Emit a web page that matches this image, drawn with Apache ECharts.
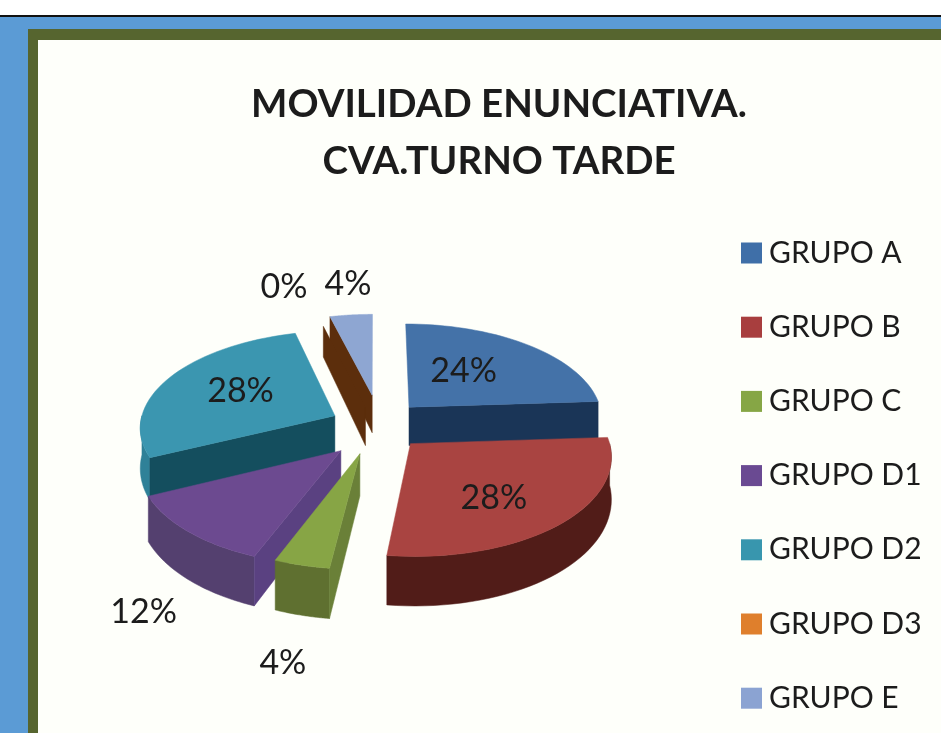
<!DOCTYPE html>
<html>
<head>
<meta charset="utf-8">
<style>
  html, body { margin: 0; padding: 0; background: #5b9bd5; }
  #main { width: 941px; height: 733px; }
</style>
</head>
<body>
<div id="main"></div>
<script src="https://cdn.jsdelivr.net/npm/echarts@6/dist/echarts.min.js"></script>
<script>
const chartTitle = 'MOVILIDAD ENUNCIATIVA.\nCVA.TURNO TARDE';
const groupNames = ['GRUPO A', 'GRUPO B', 'GRUPO C', 'GRUPO D1', 'GRUPO D2', 'GRUPO D3', 'GRUPO E'];
const groupValues = [24, 28, 4, 12, 28, 0, 4];

// styles per slice
const topColors = ['#4472a8', '#a94441', '#87a545', '#6c4a90', '#3b96b0', '#e07f2e', '#8ea6d2'];
const wallColors = ['#1a3557', '#511c18', '#6a8038', '#5a4181', '#144e5e', '#5c2e0c', '#5c2e0c'];
const rimColors = ['#1a3557', '#511c18', '#5f7030', '#54406f', '#2f8198', '#5c2e0c', '#5c2e0c'];
const legendColors = ['#3f6fa8', '#a83e3e', '#86a645', '#6a4a92', '#3896ae', '#df7f2c', '#8ba3d2'];
// how far each slice is pulled out of the pie (sideways, towards viewer), in radii
const explode = [[0.178, -0.19], [0.178, 0.19], [-0.075, 0.29], [-0.17, 0.26], [-0.208, -0.098], [-0.05, -0.19], [-0.015, -0.32]];
// label position: radius along the slice middle, then small pixel nudge
const labelRadius = [0.56, 0.7, 1.71, 1.84, 0.64, 1.56, 1.44];
const labelNudge = [[-14, 0], [-20, 0], [32, 0], [107, 0], [13, 0], [-19, 0], [5, 0]];
// back slices first
const paintOrder = [6, 5, 0, 4, 3, 2, 1];

const total = groupValues.reduce((a, b) => a + b, 0);
const pie = { cx: 375, cy: 425, r: 195, flat: 96, persp: 0.11, depth: 40, depthSlope: 0.2 };
const labelFont = 'Lato, "Open Sans", sans-serif';

function project(u, v, h) {
  const s = 1 / (1 - pie.persp * v);
  return [pie.cx + u * pie.r * s, pie.cy + v * pie.flat * s + h * pie.depth * (1 + pie.depthSlope * v)];
}

function sliceAngles(i) {
  const before = groupValues.slice(0, i).reduce((a, b) => a + b, 0);
  return [before / total * Math.PI * 2, (before + groupValues[i]) / total * Math.PI * 2];
}

function renderSlice(i, params, api) {
  const value = api.value(0);
  const [a0, a1] = sliceAngles(i);
  const mid = (a0 + a1) / 2;
  const ox = explode[i][0];
  const oy = explode[i][1];
  const rim = (t, h) => project(ox + Math.sin(t), oy - Math.cos(t), h);
  const apex = h => project(ox, oy, h);
  const children = [];
  const poly = (points, fill) => children.push({
    type: 'polygon',
    shape: { points: points },
    style: { fill: fill, stroke: fill, lineWidth: 0.5 }
  });

  // outer wall, front half only
  const from = Math.max(a0, Math.PI / 2);
  const to = Math.min(a1, Math.PI * 1.5);
  if (to > from) {
    const upper = [], lower = [];
    for (let k = 0; k <= 40; k++) {
      const t = from + (to - from) * k / 40;
      upper.push(rim(t, 0));
      lower.unshift(rim(t, 1));
    }
    poly(upper.concat(lower), rimColors[i]);
  }
  // radial walls that face the viewer
  if (Math.sin(a0) < -0.001) {
    poly([apex(0), rim(a0, 0), rim(a0, 1), apex(1)], wallColors[i]);
  }
  if (Math.sin(a1) > 0.001) {
    poly([apex(0), rim(a1, 0), rim(a1, 1), apex(1)], wallColors[i]);
  }
  // top face
  if (a1 > a0) {
    const top = [apex(0)];
    for (let k = 0; k <= 40; k++) {
      top.push(rim(a0 + (a1 - a0) * k / 40, 0));
    }
    poly(top, topColors[i]);
  }
  // percent label
  const lp = project(ox + labelRadius[i] * Math.sin(mid), oy - labelRadius[i] * Math.cos(mid), 0);
  children.push({
    type: 'text',
    style: {
      x: lp[0] + labelNudge[i][0],
      y: lp[1] + labelNudge[i][1],
      text: Math.round(value / total * 100) + '%',
      fill: '#1c1c1c',
      font: '34px ' + labelFont,
      align: 'center',
      verticalAlign: 'middle'
    }
  });
  return { type: 'group', children: children };
}

const series = groupNames.map((name, i) => ({
  type: 'custom',
  name: name,
  coordinateSystem: 'none',
  silent: true,
  z: 3 + paintOrder.indexOf(i),
  itemStyle: { color: legendColors[i] },
  renderItem: (params, api) => renderSlice(i, params, api),
  data: [[groupValues[i]]]
}));

const chart = echarts.init(document.getElementById('main'), null, { renderer: 'canvas' });
chart.setOption({
  backgroundColor: '#5b9bd5',
  animation: false,
  graphic: [
    { type: 'rect', z: 0, shape: { x: 0, y: 0, width: 941, height: 15 }, style: { fill: '#ffffff' } },
    { type: 'rect', z: 0, shape: { x: 0, y: 15, width: 941, height: 2 }, style: { fill: '#111111' } },
    { type: 'rect', z: 0, shape: { x: 28, y: 29, width: 913, height: 704 }, style: { fill: '#56652f' } },
    { type: 'rect', z: 0, shape: { x: 38, y: 40, width: 903, height: 693 }, style: { fill: '#fefffa' } }
  ],
  title: {
    text: chartTitle,
    left: 494,
    top: 71,
    textAlign: 'center',
    textStyle: {
      fontFamily: labelFont,
      fontSize: 38.5,
      fontWeight: 'bold',
      lineHeight: 57,
      color: '#1c1c1c'
    }
  },
  legend: {
    orient: 'vertical',
    left: 736,
    top: 233,
    icon: 'rect',
    itemWidth: 21,
    itemHeight: 21,
    itemGap: 44.2,
    height: 520,
    data: groupNames,
    selectedMode: false,
    textStyle: {
      fontFamily: labelFont,
      fontSize: 30,
      lineHeight: 30,
      color: '#1c1c1c',
      padding: [0, 0, 0, 2]
    }
  },
  series: series
});
</script>
</body>
</html>
